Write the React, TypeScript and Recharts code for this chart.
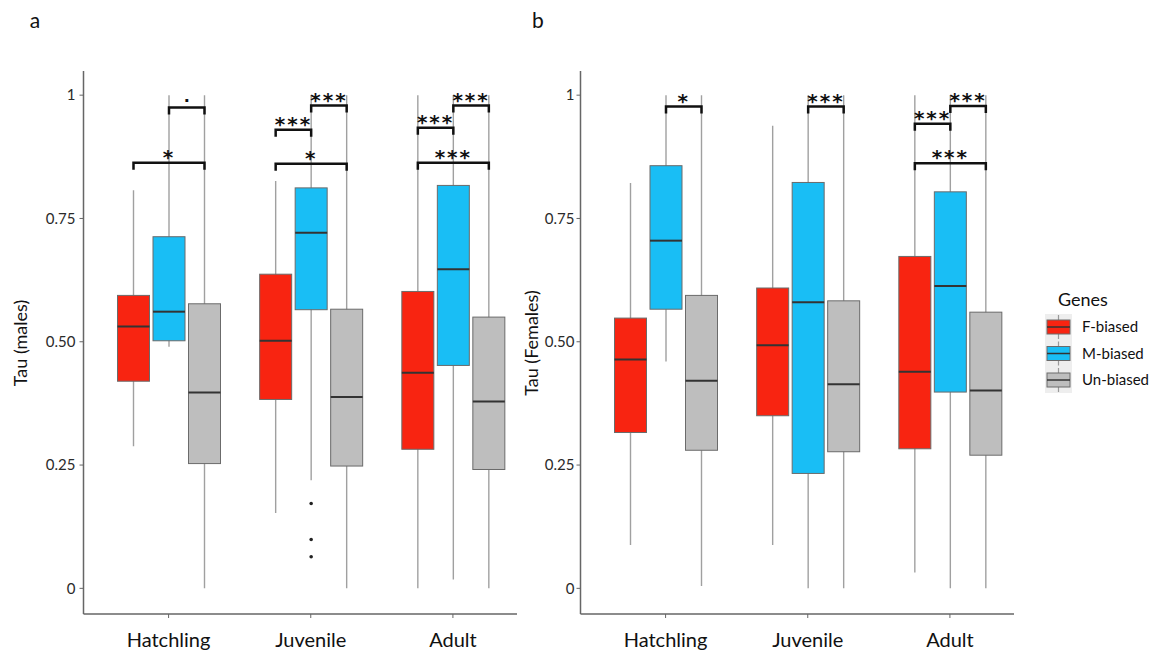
import React from 'react';
import { BarChart, Bar, XAxis, YAxis } from 'recharts';

const stages = ['Hatchling', 'Juvenile', 'Adult'];
const genes = ['F-biased', 'M-biased', 'Un-biased'];
const geneColors = ['#F82411', '#19BEF5', '#BEBEBE'];
const yTicks = [0, 0.25, 0.5, 0.75, 1];

// each box: [min, q1, median, q3, max], one per stage
const malesF = [[0.288, 0.42, 0.531, 0.594, 0.807], [0.153, 0.383, 0.502, 0.637, 0.826], [0, 0.282, 0.437, 0.602, 1]];
const malesM = [[0.49, 0.502, 0.561, 0.713, 1], [0.219, 0.565, 0.721, 0.812, 1], [0.018, 0.452, 0.647, 0.817, 1]];
const malesU = [[0, 0.253, 0.397, 0.577, 1], [0, 0.248, 0.388, 0.566, 1], [0, 0.241, 0.379, 0.55, 1]];
const malesOutM = [[], [0.172, 0.099, 0.064], []];

const femalesF = [[0.088, 0.316, 0.464, 0.548, 0.822], [0.088, 0.35, 0.493, 0.609, 0.938], [0.032, 0.283, 0.439, 0.673, 1]];
const femalesM = [[0.46, 0.566, 0.705, 0.857, 1], [0, 0.233, 0.58, 0.823, 1], [0, 0.398, 0.613, 0.804, 1]];
const femalesU = [[0.005, 0.28, 0.421, 0.594, 1], [0, 0.277, 0.414, 0.583, 1], [0, 0.27, 0.401, 0.56, 1]];
const femalesOutM = [[], [], []];

// significance brackets: stage, gene from/to, height, label
const malesSig = [
  { stage: 0, from: 1, to: 2, y: 0.975, label: '.' },
  { stage: 0, from: 0, to: 2, y: 0.863, label: '*' },
  { stage: 1, from: 0, to: 1, y: 0.93, label: '***' },
  { stage: 1, from: 1, to: 2, y: 0.979, label: '***' },
  { stage: 1, from: 0, to: 2, y: 0.861, label: '*' },
  { stage: 2, from: 0, to: 1, y: 0.934, label: '***' },
  { stage: 2, from: 1, to: 2, y: 0.979, label: '***' },
  { stage: 2, from: 0, to: 2, y: 0.863, label: '***' },
];
const femalesSig = [
  { stage: 0, from: 1, to: 2, y: 0.977, label: '*' },
  { stage: 1, from: 1, to: 2, y: 0.977, label: '***' },
  { stage: 2, from: 0, to: 1, y: 0.942, label: '***' },
  { stage: 2, from: 1, to: 2, y: 0.978, label: '***' },
  { stage: 2, from: 0, to: 2, y: 0.862, label: '***' },
];

const buildRows = (f: number[][], m: number[][], u: number[][], outM: number[][]) =>
  stages.map((stage, i) => ({ stage, g0: f[i], g1: m[i], g2: u[i], out0: [], out1: outM[i], out2: [] }));

const malesRows = buildRows(malesF, malesM, malesU, malesOutM);
const femalesRows = buildRows(femalesF, femalesM, femalesU, femalesOutM);

const BAR = 32;
const GAP = 3.5;
const FONT = 'Lato, "Open Sans", sans-serif';

const fmt = (v: number) => (v === 0 ? '0' : v === 1 ? '1' : v.toFixed(2));

const BoxShape = (props: any) => {
  const { x, y, width, height, payload, gi, sigs, index } = props;
  const s: number[] = payload['g' + gi];
  const top = Math.min(y, y + height);
  const h = Math.abs(height);
  const span = s[4] - s[0];
  const py = (v: number) => top + ((s[4] - v) / span) * h;
  const cx = x + width / 2;
  const step = width + GAP;
  const outs: number[] = payload['out' + gi] || [];
  const mySigs = gi === 2 ? sigs.filter((b: any) => b.stage === index) : [];
  return (
    <g>
      <line x1={cx} x2={cx} y1={py(s[4])} y2={py(s[0])} stroke="#a0a0a0" strokeWidth={1.4} />
      <rect x={x} y={py(s[3])} width={width} height={py(s[1]) - py(s[3])} fill={geneColors[gi]} stroke="#6b6b6b" strokeWidth={1} />
      <line x1={x} x2={x + width} y1={py(s[2])} y2={py(s[2])} stroke="#333" strokeWidth={2} />
      {outs.map((o, k) => (
        <circle key={k} cx={cx} cy={py(o)} r={1.8} fill="#222" />
      ))}
      {mySigs.map((b: any, k: number) => {
        const x1 = cx + (b.from - gi) * step;
        const x2 = cx + (b.to - gi) * step;
        const yb = py(b.y);
        const dot = b.label === '.';
        return (
          <g key={k}>
            <path d={`M${x1},${yb + 7} V${yb} H${x2} V${yb + 7}`} fill="none" stroke="#111" strokeWidth={2.5} />
            <text x={(x1 + x2) / 2} y={dot ? yb - 5 : yb + 1} textAnchor="middle" fontFamily='"DejaVu Sans", sans-serif' fontWeight={700}
              fontSize={dot ? 16 : 20} letterSpacing={dot ? 0 : 2} fill="#111">{b.label}</text>
          </g>
        );
      })}
    </g>
  );
};

function Panel({ rows, sigs, tickMargin }: { rows: any[]; sigs: any[]; tickMargin: number }) {
  return (
    <BarChart width={540} height={653} data={rows} margin={{ top: 71, right: 23, bottom: 0, left: 3.5 }} barSize={BAR} barGap={GAP}>
      <XAxis dataKey="stage" height={39} padding={{ left: 14, right: -7 }} interval={0} tickSize={4} tickMargin={15}
        axisLine={{ stroke: '#666', strokeWidth: 1.5 }} tickLine={{ stroke: '#666' }}
        tick={{ fill: '#111', fontSize: 20, fontFamily: FONT }} />
      <YAxis type="number" domain={[-0.052, 1.049]} allowDataOverflow ticks={yTicks} tickFormatter={fmt} width={80}
        tickSize={4} tickMargin={tickMargin} axisLine={{ stroke: '#666', strokeWidth: 1.5 }} tickLine={{ stroke: '#666' }}
        tick={{ fill: '#2a2a2a', fontSize: 15, fontFamily: FONT }} />
      {genes.map((g, gi) => (
        <Bar key={g} name={g} dataKey={(d: any) => [d['g' + gi][0], d['g' + gi][4]]} fill={geneColors[gi]}
          isAnimationActive={false} shape={(p: any) => <BoxShape {...p} gi={gi} sigs={sigs} />} />
      ))}
    </BarChart>
  );
}

const legendY = [327, 353.5, 380];

export default function App() {
  return (
    <div style={{ position: 'absolute', left: 0, top: 0, width: 1151, height: 653, background: '#fff', fontFamily: FONT }}>
      <div style={{ position: 'absolute', left: 0, top: 0 }}>
        <Panel rows={malesRows} sigs={malesSig} tickMargin={4} />
      </div>
      <div style={{ position: 'absolute', left: 497, top: 0 }}>
        <Panel rows={femalesRows} sigs={femalesSig} tickMargin={2} />
      </div>
      <svg width={1151} height={653} style={{ position: 'absolute', left: 0, top: 0, pointerEvents: 'none' }}>
        <text x={35} y={28} fontSize={21} fontFamily={FONT} fill="#111" textAnchor="middle">a</text>
        <text x={538} y={28} fontSize={21} fontFamily={FONT} fill="#111" textAnchor="middle">b</text>
        <text x={0} y={0} transform="translate(27,343) rotate(-90)" fontSize={18} fontFamily={FONT} fill="#111" textAnchor="middle">Tau (males)</text>
        <text x={0} y={0} transform="translate(538,343) rotate(-90)" fontSize={18} fontFamily={FONT} fill="#111" textAnchor="middle">Tau (Females)</text>
        <text x={1058} y={306} fontSize={18} fontFamily={FONT} fill="#111">Genes</text>
        <rect x={1045} y={314} width={27} height={79} fill="#eeeeee" />
        {genes.map((g, i) => (
          <g key={g}>
            <line x1={1058.5} x2={1058.5} y1={legendY[i] - 12} y2={legendY[i] + 12} stroke="#9a9a9a" strokeWidth={1.2} />
            <rect x={1047} y={legendY[i] - 7} width={23} height={14} fill={geneColors[i]} stroke="#6b6b6b" strokeWidth={1} />
            <line x1={1047} x2={1070} y1={legendY[i]} y2={legendY[i]} stroke="#333" strokeWidth={1.5} />
            <text x={1082} y={legendY[i] + 5} fontSize={15} fontFamily={FONT} fill="#111">{g}</text>
          </g>
        ))}
      </svg>
    </div>
  );
}
